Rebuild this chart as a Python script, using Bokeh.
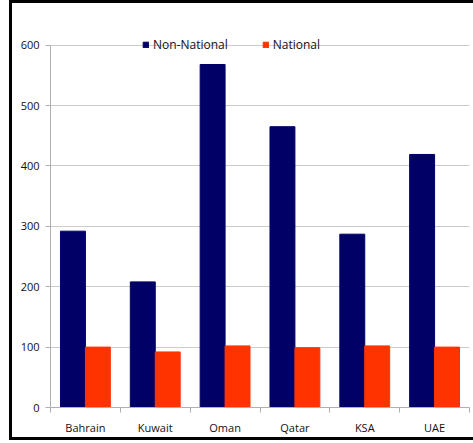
import numpy as np
from bokeh.plotting import figure
from bokeh.models import FixedTicker, Legend, LegendItem, Range1d
from bokeh.embed import file_html
from bokeh.resources import INLINE

categories = ["Bahrain", "Kuwait", "Oman", "Qatar", "KSA", "UAE"]
non_national = [292, 208, 568, 465, 287, 419]
national = [100, 92, 102, 99, 102, 100]
y_ticks = [0, 100, 200, 300, 400, 500, 600]

NAVY = "#000066"
RED = "#FF3300"
FONT = "Open Sans"

p = figure(width=461, height=434, output_backend="svg", toolbar_location=None,
           x_range=Range1d(0, len(categories)), y_range=Range1d(0, 616),
           min_border_left=38, min_border_right=4, min_border_top=32, min_border_bottom=26)
p.styles = {"margin-left": "12px", "margin-top": "3px",
            "box-shadow": "0 0 0 3px black"}
p.outline_line_color = None
p.background_fill_color = "white"

xc = np.arange(len(categories)) + 0.5
w = 0.357
r1 = p.vbar(x=xc - w / 2, top=non_national, width=w, fill_color=NAVY, line_color=NAVY)
r2 = p.vbar(x=xc + w / 2, top=national, width=w, fill_color=RED, line_color=RED)

# x axis: labels at centers, tick marks at boundaries
p.xaxis.ticker = FixedTicker(ticks=list(xc), minor_ticks=list(range(len(categories) + 1)))
p.xaxis.major_label_overrides = {float(x): c for x, c in zip(xc, categories)}
p.xaxis.major_tick_line_color = None
p.xaxis.minor_tick_in = 0
p.xaxis.minor_tick_out = 5
p.xaxis.minor_tick_line_color = "#b0b0b0"
p.xaxis.axis_line_color = "#b0b0b0"
p.xaxis.major_label_text_font = FONT
p.xaxis.major_label_text_font_size = "11px"
p.xaxis.major_label_text_color = "#111111"
p.xaxis.major_label_standoff = 6

p.yaxis.ticker = FixedTicker(ticks=y_ticks)
p.yaxis.bounds = (0, 600)
p.yaxis.minor_tick_line_color = None
p.yaxis.major_tick_in = 0
p.yaxis.major_tick_out = 5
p.yaxis.major_tick_line_color = "#b0b0b0"
p.yaxis.axis_line_color = "#b0b0b0"
p.yaxis.major_label_text_font = FONT
p.yaxis.major_label_text_font_size = "11px"
p.yaxis.major_label_text_color = "#111111"
p.yaxis.major_label_standoff = 6

p.xgrid.grid_line_color = None
p.ygrid.grid_line_color = "#cccccc"
p.ygrid.ticker = FixedTicker(ticks=y_ticks)

legend = Legend(items=[LegendItem(label="Non-National", renderers=[r1]),
                       LegendItem(label="National", renderers=[r2])],
                orientation="horizontal", location=(88, 350),
                background_fill_alpha=0, border_line_alpha=0,
                glyph_width=7, glyph_height=7, spacing=34, padding=4,
                label_text_font=FONT, label_text_font_size="12px",
                label_standoff=4, label_text_color="#111111")
p.add_layout(legend)

open("out.html", "w").write(file_html(p, INLINE))
